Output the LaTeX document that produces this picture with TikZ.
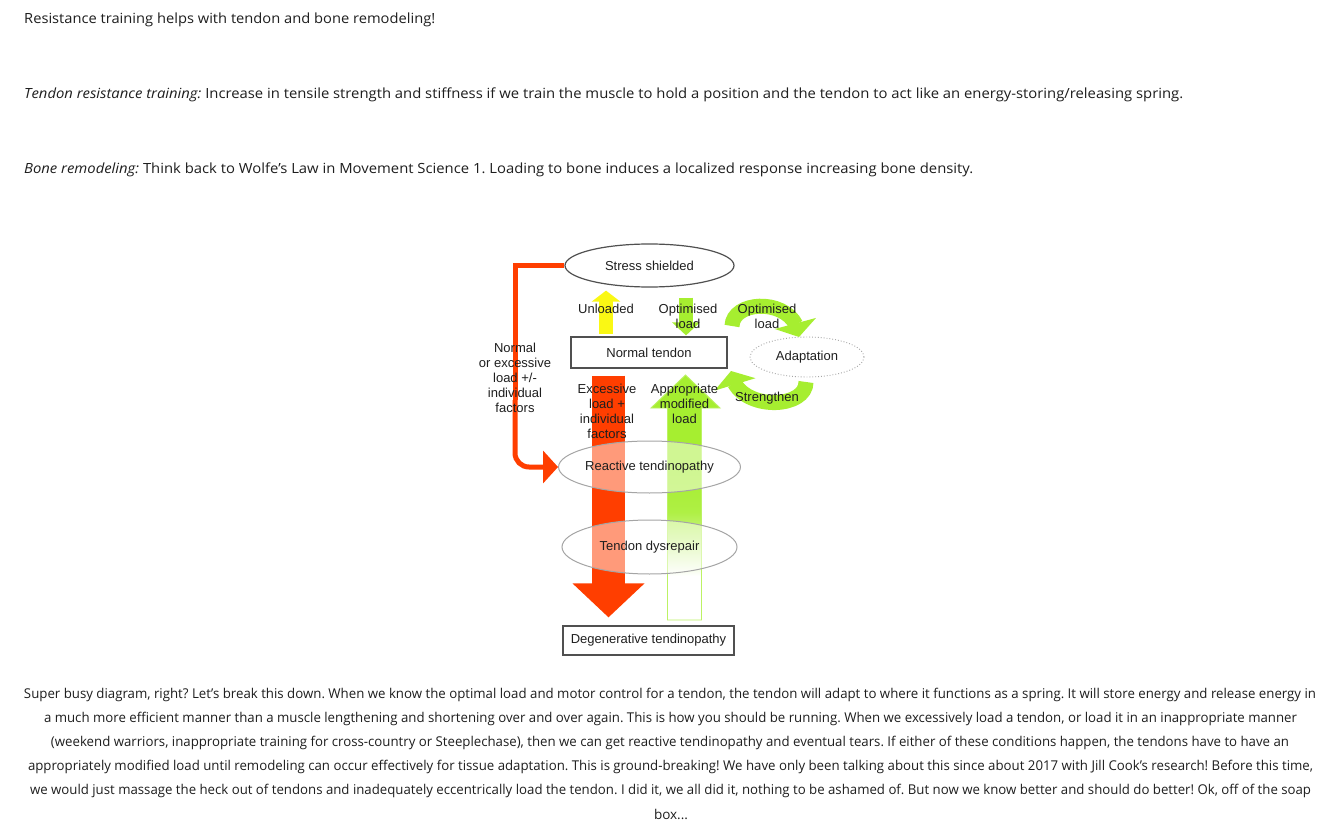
\documentclass[tikz,border=0pt]{standalone}
\usepackage{fontspec}
\setmainfont{Open Sans}
\newfontfamily\arialf{Liberation Sans}
\usetikzlibrary{arrows.meta,bending,shapes.geometric}
\definecolor{rd}{RGB}{255,62,0}
\definecolor{lg}{RGB}{166,238,48}
\definecolor{yl}{RGB}{250,248,20}
\definecolor{bordergray}{RGB}{80,80,80}
\definecolor{lightgraytwo}{RGB}{165,165,165}
\definecolor{txt}{RGB}{30,30,30}
\pgfdeclareverticalshading{gfade}{100bp}{color(0bp)=(white); color(34bp)=(white); color(40bp)=(lg!45); color(47bp)=(lg!90); color(55bp)=(lg); color(100bp)=(lg)}
\pgfdeclarelayer{bg}
\pgfsetlayers{bg,main}
\newsavebox\fitbox
\newcommand\fitw[2]{\sbox\fitbox{#2}\scalebox{\fpeval{#1*65536/\number\wd\fitbox}}[1]{\usebox\fitbox}}
\frenchspacing
\begin{document}
\frenchspacing
\begin{tikzpicture}[x=1pt,y=-1pt,
  body/.style={font=\fontsize{14}{17}\selectfont, text=txt, inner sep=0pt},
  para/.style={font=\fontsize{13.5}{16}\selectfont, text=txt, inner sep=0pt},
  dtext/.style={font=\arialf\fontsize{13}{15}\selectfont, align=center, inner sep=0pt, text=black!88},
  boxnode/.style={draw=bordergray, line width=1.2pt, fill=white, inner sep=0pt},
  ovalnode/.style={ellipse, inner sep=0pt},
  redline/.style={draw=rd, line width=5pt},
  yblock/.style={draw=yl, line width=14pt, -{Triangle[length=11pt,width=28pt]}},
  gblock/.style={draw=lg, line width=14pt, -{Triangle[length=13pt,width=27pt]}},
  rblock/.style={draw=rd, line width=33pt, -{Triangle[length=34pt,width=70pt]}},
  garc/.style={draw=lg, line width=15pt, -{Triangle[length=14pt,width=42pt]}}
]
\useasboundingbox (0,0) rectangle (1334,837);
\begin{pgfonlayer}{bg}
\fill[white] (0,0) rectangle (1334,837);
\end{pgfonlayer}

% page text
\node[body, anchor=west] (t1) at (24,19.5) {\fitw{411}{Resistance training helps with tendon and bone remodeling!}};
\node[body, anchor=west] (t2) at (24,94.5) {\fitw{1159}{\textit{Tendon resistance training:} Increase in tensile strength and stiffness if we train the muscle to hold a position and the tendon to act like an energy-storing/releasing spring.}};
\node[body, anchor=west] (t3) at (24,169.5) {\fitw{949}{\textit{Bone remodeling:} Think back to Wolfe's Law in Movement Science 1. Loading to bone induces a localized response increasing bone density.}};

\node[para] (p1) at (670,694.5) {\fitw{1292}{Super busy diagram, right? Let's break this down. When we know the optimal load and motor control for a tendon, the tendon will adapt to where it functions as a spring. It will store energy and release energy in}};
\node[para] (p2) at (670.5,718.5) {\fitw{1253}{a much more efficient manner than a muscle lengthening and shortening over and over again. This is how you should be running. When we excessively load a tendon, or load it in an inappropriate manner}};
\node[para] (p3) at (670,742.5) {\fitw{1238}{(weekend warriors, inappropriate training for cross-country or Steeplechase), then we can get reactive tendinopathy and eventual tears. If either of these conditions happen, the tendons have to have an}};
\node[para] (p4) at (670.5,766.5) {\fitw{1285}{appropriately modified load until remodeling can occur effectively for tissue adaptation. This is ground-breaking! We have only been talking about this since about 2017 with Jill Cook's research! Before this time,}};
\node[para] (p5) at (670.5,790.5) {\fitw{1281}{we would just massage the heck out of tendons and inadequately eccentrically load the tendon. I did it, we all did it, nothing to be ashamed of. But now we know better and should do better! Ok, off of the soap}};
\node[para] (p6) at (671,814.5) {box...};

% diagram nodes
\node[ovalnode, draw=bordergray, line width=1.2pt, fill=white, minimum width=169pt, minimum height=43pt, dtext] (ss) at (649.5,265.5) {Stress shielded};
\node[boxnode, minimum width=156pt, minimum height=31pt, dtext] (nt) at (649,352.5) {Normal tendon};
\node[ovalnode, draw=lightgraytwo, dotted, line width=0.9pt, fill=white, minimum width=114pt, minimum height=40pt, dtext] (ad) at (807,357) {Adaptation};
\node[ovalnode, draw=lightgraytwo, line width=1pt, fill=white, fill opacity=0.48, text opacity=1, minimum width=174pt, minimum height=52pt, dtext] (rt) at (649.5,467) {Reactive tendinopathy};
\node[ovalnode, draw=lightgraytwo, line width=1pt, fill=white, fill opacity=0.48, text opacity=1, minimum width=175pt, minimum height=54pt, dtext] (td) at (649.5,547) {Tendon dysrepair};
\node[boxnode, minimum width=171pt, minimum height=29pt, dtext] (dg) at (648.5,640.5) {Degenerative tendinopathy};

% helper coordinates
\coordinate (xy) at (606,0);
\coordinate (xg) at (686,0);
\coordinate (xr) at (608.5,0);
\coordinate (c1) at (515,265.5);
\coordinate (c3) at (515,400);
\coordinate (c2) at (515,467);

\begin{pgfonlayer}{bg}
  % red connector
  \draw[redline] (ss.west) -- (c1) -- (c3);
  \draw[redline, rounded corners=14pt, -{Triangle[length=15pt,width=32pt]}] (c3) -- (c2) -- (rt.west);
  % block arrows
  \draw[yblock, shorten <=2pt, shorten >=3pt] (nt.north -| xy) -- (ss.south -| xy);
  \draw[gblock, shorten <=10pt, shorten >=1pt] (ss.south -| xg) -- (nt.north -| xg);
  \draw[rblock, shorten <=7pt, shorten >=8pt] (nt.south -| xr) -- (dg.north -| xr);
  \shade[shading=gfade, draw=lg!75, line width=0.9pt]
    (667.5,620) -- (667.5,408) -- (651,408) -- (685.5,375) -- (720,408) -- (701.5,408) -- (701.5,620) -- cycle;
  % curved arrows
  \draw[garc] (732,326) .. controls (733,298) and (797,298) .. (799,337);
  \draw[garc] (806,382) .. controls (806,411) and (734,411) .. (731,371);
\end{pgfonlayer}

% labels
\node[dtext] (l1) at (606,309) {Unloaded};
\node[dtext] (l2) at (688,316.5) {Optimised\\load};
\node[dtext] (l3) at (767,316.5) {Optimised\\load};
\node[dtext] (l4) at (767,398) {Strengthen};
\node[dtext] (l5) at (515,378) {Normal\\or excessive\\load +/-\\individual\\factors};
\node[dtext] (l6) at (607,411.5) {Excessive\\load +\\individual\\factors};
\node[dtext] (l7) at (684.5,404) {Appropriate\\modified\\load};
\end{tikzpicture}
\end{document}
